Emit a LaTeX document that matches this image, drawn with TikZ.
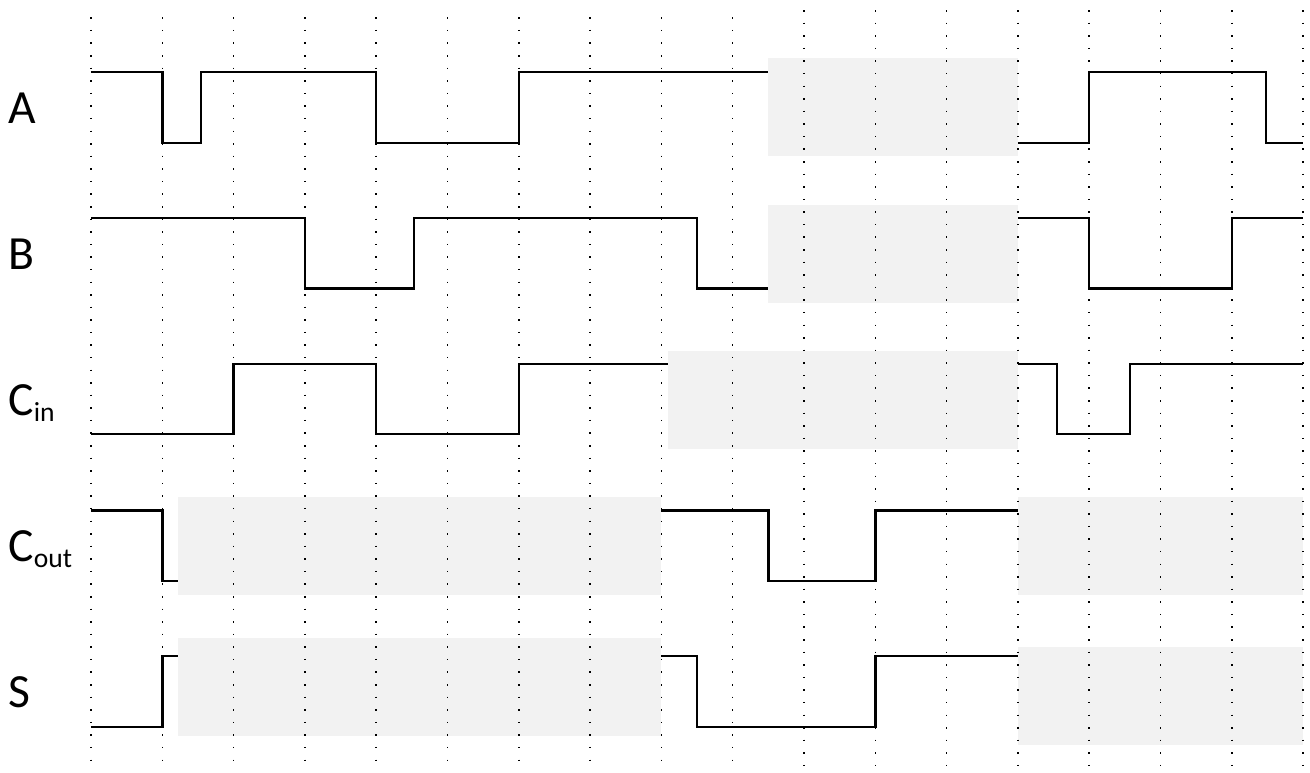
\documentclass[tikz,border=0pt]{standalone}
\usepackage{fontspec}
\setmainfont{Carlito}
\usepackage{xcolor}
\usepackage{tikz}
\definecolor{blankgray}{RGB}{242,242,242}
\newcommand{\sublabel}[2]{#1\raisebox{-2.6pt}{\fontsize{11}{11}\selectfont #2}}

\begin{document}
\begin{tikzpicture}[
  every node/.style={font=\fontsize{19}{23}\selectfont},
  wave/.style={draw=black, line width=1pt},
  blank/.style={fill=blankgray, draw=none},
  tick/.style={draw=black, line width=0.6pt, dash pattern=on 0.6pt off 4.42pt},
  siglabel/.style={anchor=base west, inner sep=0pt}
]
  \useasboundingbox (-1.276,0) rectangle (17.097,10.828);

  % Unknown (don't care) regions
  \fill[blank] (9.5,8.64) rectangle (13,10.01);
  \fill[blank] (9.5,6.58) rectangle (13,7.95);
  \fill[blank] (8.09,4.53) rectangle (13,5.90);
  \fill[blank] (1.22,2.49) rectangle (8,3.86);
  \fill[blank] (13,2.49) rectangle (17,3.86);
  \fill[blank] (1.22,0.51) rectangle (8,1.88);
  \fill[blank] (13,0.38) rectangle (17,1.75);

  % Time grid
  \foreach \k in {0,...,9}
    \draw[tick] (\k,10.585) -- (\k,0.164);
  \foreach \k in {10,...,17}
    \draw[tick] (\k,10.687) -- (\k,0.088);

  % Signal names
  \node[siglabel] (lblA)    at (-1.165,9.102) {A};
  \node[siglabel] (lblB)    at (-1.165,7.055) {B};
  \node[siglabel] (lblCin)  at (-1.165,5.007) {\sublabel{C}{in}};
  \node[siglabel] (lblCout) at (-1.165,2.959) {\sublabel{C}{out}};
  \node[siglabel] (lblS)    at (-1.165,0.912) {S};

  % A
  \draw[wave] (0,9.82) -- (1,9.82) -- (1,8.82) -- (1.54,8.82) -- (1.54,9.82)
    -- (4,9.82) -- (4,8.82) -- (6,8.82) -- (6,9.82) -- (9.5,9.82);
  \draw[wave] (13,8.82) -- (14,8.82) -- (14,9.82) -- (16.48,9.82) -- (16.48,8.82) -- (17,8.82);

  % B
  \draw[wave] (0,7.77) -- (3,7.77) -- (3,6.78) -- (4.53,6.78) -- (4.53,7.77)
    -- (8.5,7.77) -- (8.5,6.78) -- (9.5,6.78);
  \draw[wave] (13,7.77) -- (14,7.77) -- (14,6.78) -- (16,6.78) -- (16,7.77) -- (17,7.77);

  % C_in
  \draw[wave] (0,4.74) -- (2,4.74) -- (2,5.72) -- (4,5.72) -- (4,4.74)
    -- (6,4.74) -- (6,5.72) -- (8.09,5.72);
  \draw[wave] (13,5.72) -- (13.55,5.72) -- (13.55,4.74) -- (14.57,4.74) -- (14.57,5.72) -- (17,5.72);

  % C_out
  \draw[wave] (0,3.67) -- (1,3.67) -- (1,2.68) -- (1.22,2.68);
  \draw[wave] (8,3.67) -- (9.5,3.67) -- (9.5,2.68) -- (11,2.68) -- (11,3.67) -- (13,3.67);

  % S
  \draw[wave] (0,0.63) -- (1,0.63) -- (1,1.63) -- (1.22,1.63);
  \draw[wave] (8,1.63) -- (8.5,1.63) -- (8.5,0.63) -- (11,0.63) -- (11,1.63) -- (13,1.63);
\end{tikzpicture}
\end{document}
